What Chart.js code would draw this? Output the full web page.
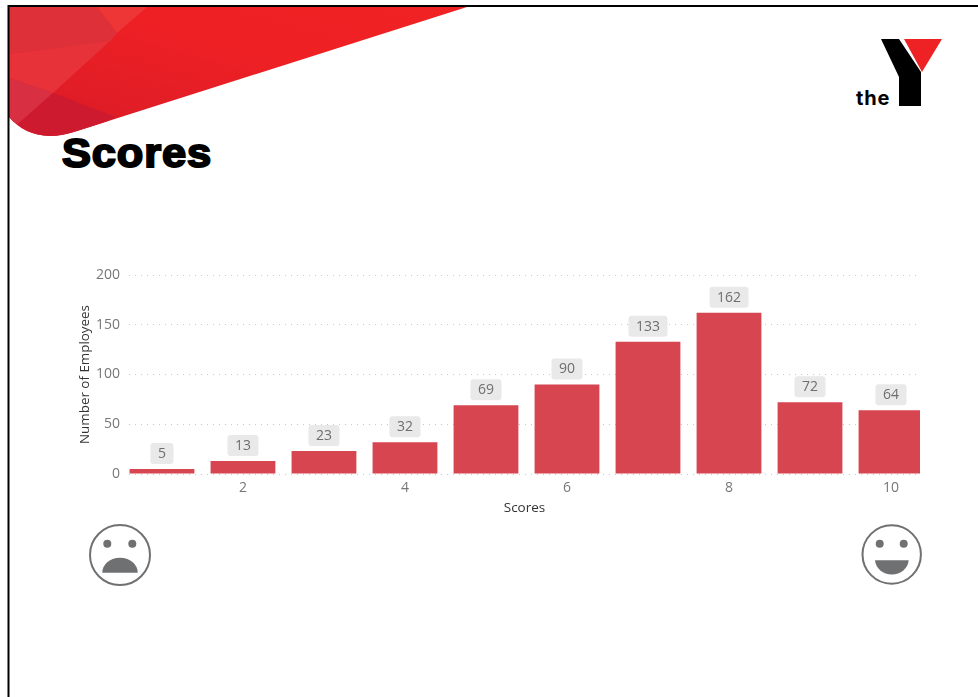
<!DOCTYPE html>
<html>
<head>
<meta charset="utf-8">
<title>Scores</title>
<script src="https://cdn.jsdelivr.net/npm/chart.js@4/dist/chart.umd.min.js"></script>
<style>
  html, body { margin: 0; padding: 0; background: #fff; }
  #page { position: relative; width: 978px; height: 697px; overflow: hidden; background: #fff; }
  #art { position: absolute; left: 0; top: 0; }
  #heading {
    position: absolute; left: 62px; top: 130px; margin: 0;
    font: 700 41px "Liberation Sans", Arial, sans-serif;
    color: #000; -webkit-text-stroke: 2px #000; letter-spacing: 0.8px;
    transform: scaleX(1.06); transform-origin: left center;
  }
  #chartBox { position: absolute; left: 0; top: 0; width: 978px; height: 530px; }
</style>
</head>
<body>
<div id="page">
  <svg id="art" width="978" height="697" viewBox="0 0 978 697">
    <defs>
      <clipPath id="swoosh">
        <path d="M9 7 H467 L77 131 Q62 136 50 136 Q24 135 9 117 Z"/>
      </clipPath>
      <linearGradient id="swooshFill" x1="0" y1="1" x2="1" y2="0">
        <stop offset="0" stop-color="#d81b28"/>
        <stop offset="0.6" stop-color="#ee2024"/>
        <stop offset="1" stop-color="#f02223"/>
      </linearGradient>
    </defs>
    <g clip-path="url(#swoosh)">
      <rect x="9" y="7" width="460" height="130" fill="url(#swooshFill)"/>
      <polygon points="9,7 97,7 117,33 110,42 9,54" fill="#de3039"/>
      <polygon points="97,7 147,7 117,33" fill="#ee3636"/>
      <polygon points="9,54 110,41 53,93 9,78" fill="#e63238"/>
      <polygon points="9,78 53,93 18,124 9,120" fill="#d92f42"/>
      <polygon points="18,124 53,93 116,117 70,140 30,140" fill="#cd1a2e"/>
    </g>
    <!-- frame -->
    <path d="M8.5 697 V6 H978" fill="none" stroke="#000" stroke-width="2"/>
    <!-- logo -->
    <polygon points="881,39 899,39 921,72 921,106 899,106 899,77" fill="#000"/>
    <polygon points="904,39 942,39 922,72" fill="#ee2224"/>
    <text x="856" y="105" font-family="Inter, 'Noto Sans', sans-serif" font-weight="700" font-size="20" letter-spacing="0.8" fill="#000">the</text>
    <!-- sad face -->
    <circle cx="120" cy="555" r="30" fill="none" stroke="#6f7072" stroke-width="2"/>
    <circle cx="107.3" cy="543.7" r="4" fill="#6f7072"/>
    <circle cx="132.3" cy="543.7" r="4" fill="#6f7072"/>
    <path d="M102.3 572.7 A17.7 15 0 0 1 137.7 572.7 Z" fill="#6f7072"/>
    <!-- happy face -->
    <circle cx="891.7" cy="554.5" r="29.2" fill="none" stroke="#6f7072" stroke-width="2"/>
    <circle cx="879.7" cy="543.7" r="4" fill="#6f7072"/>
    <circle cx="903.7" cy="543.7" r="4" fill="#6f7072"/>
    <path d="M875 560.3 H908.7 A16.9 15.4 0 0 1 875 560.3 Z" fill="#6f7072"/>
  </svg>
  <h1 id="heading">Scores</h1>
  <div id="chartBox"><canvas id="scoreChart"></canvas></div>
</div>
<script>
const SCORES = [1, 2, 3, 4, 5, 6, 7, 8, 9, 10];
const EMPLOYEES = [5, 13, 23, 32, 69, 90, 133, 162, 72, 64];
const X_TITLE = "Scores";
const Y_TITLE = "Number of Employees";

const BAR_COLOR = "#d64550";
const TICK_COLOR = "#777777";
const TITLE_COLOR = "#333333";

// grey rounded chips above each bar
const valueChips = {
  id: "valueChips",
  afterDatasetsDraw(chart) {
    const { ctx } = chart;
    const bars = chart.getDatasetMeta(0).data;
    ctx.save();
    ctx.font = '14px "Open Sans", sans-serif';
    ctx.textAlign = "center";
    ctx.textBaseline = "middle";
    bars.forEach((bar, i) => {
      const label = String(EMPLOYEES[i]);
      const w = 15 + (label.length - 1) * 8 + 8;
      const h = 21;
      const bottom = bar.y - 5;
      ctx.fillStyle = "#e9e9e9";
      ctx.beginPath();
      ctx.roundRect(bar.x - w / 2, bottom - h, w, h, 3);
      ctx.fill();
      ctx.fillStyle = "#6e6e6e";
      ctx.fillText(label, bar.x, bottom - h / 2 + 0.5);
    });
    ctx.restore();
  },
};

function createScoreChart() {
  const ctx = document.getElementById("scoreChart");
  new Chart(ctx, {
    type: "bar",
    data: {
      datasets: [
        {
          label: Y_TITLE,
          data: SCORES.map((s, i) => ({ x: s, y: EMPLOYEES[i] })),
          backgroundColor: BAR_COLOR,
          barPercentage: 0.8,
          categoryPercentage: 1,
        },
      ],
    },
    plugins: [valueChips],
    options: {
      responsive: true,
      maintainAspectRatio: false,
      animation: false,
      layout: {
        padding: { left: 77, right: 58, top: 275, bottom: 0 },
      },
      plugins: {
        legend: { display: false },
        tooltip: { enabled: false },
      },
      scales: {
        x: {
          type: "linear",
          offset: false,
          min: 0.593,
          max: 10.358,
          afterFit: (scale) => {
            scale.height = 56;
          },
          grid: { display: false, drawTicks: false },
          border: { display: false },
          ticks: {
            stepSize: 2,
            includeBounds: false,
            autoSkip: false,
            maxRotation: 0,
            padding: 6,
            color: TICK_COLOR,
            font: { family: '"Open Sans", sans-serif', size: 14 },
          },
          title: {
            display: true,
            text: X_TITLE,
            color: TITLE_COLOR,
            padding: { top: 0, bottom: 14 },
            font: { family: '"Open Sans", sans-serif', size: 13.5 },
          },
        },
        y: {
          min: 0,
          max: 200,
          afterFit: (scale) => {
            scale.width = 52;
          },
          grid: {
            color: "#c8c8c8",
            lineWidth: 1,
            drawTicks: false,
          },
          border: { display: false, dash: [1, 5] },
          ticks: {
            stepSize: 50,
            padding: 9,
            color: TICK_COLOR,
            font: { family: '"Open Sans", sans-serif', size: 14 },
          },
          title: {
            display: true,
            text: Y_TITLE,
            color: TITLE_COLOR,
            padding: 0,
            font: { family: '"Open Sans", sans-serif', size: 13.4 },
          },
        },
      },
    },
  });
}

window.addEventListener("DOMContentLoaded", createScoreChart);
</script>
</body>
</html>
